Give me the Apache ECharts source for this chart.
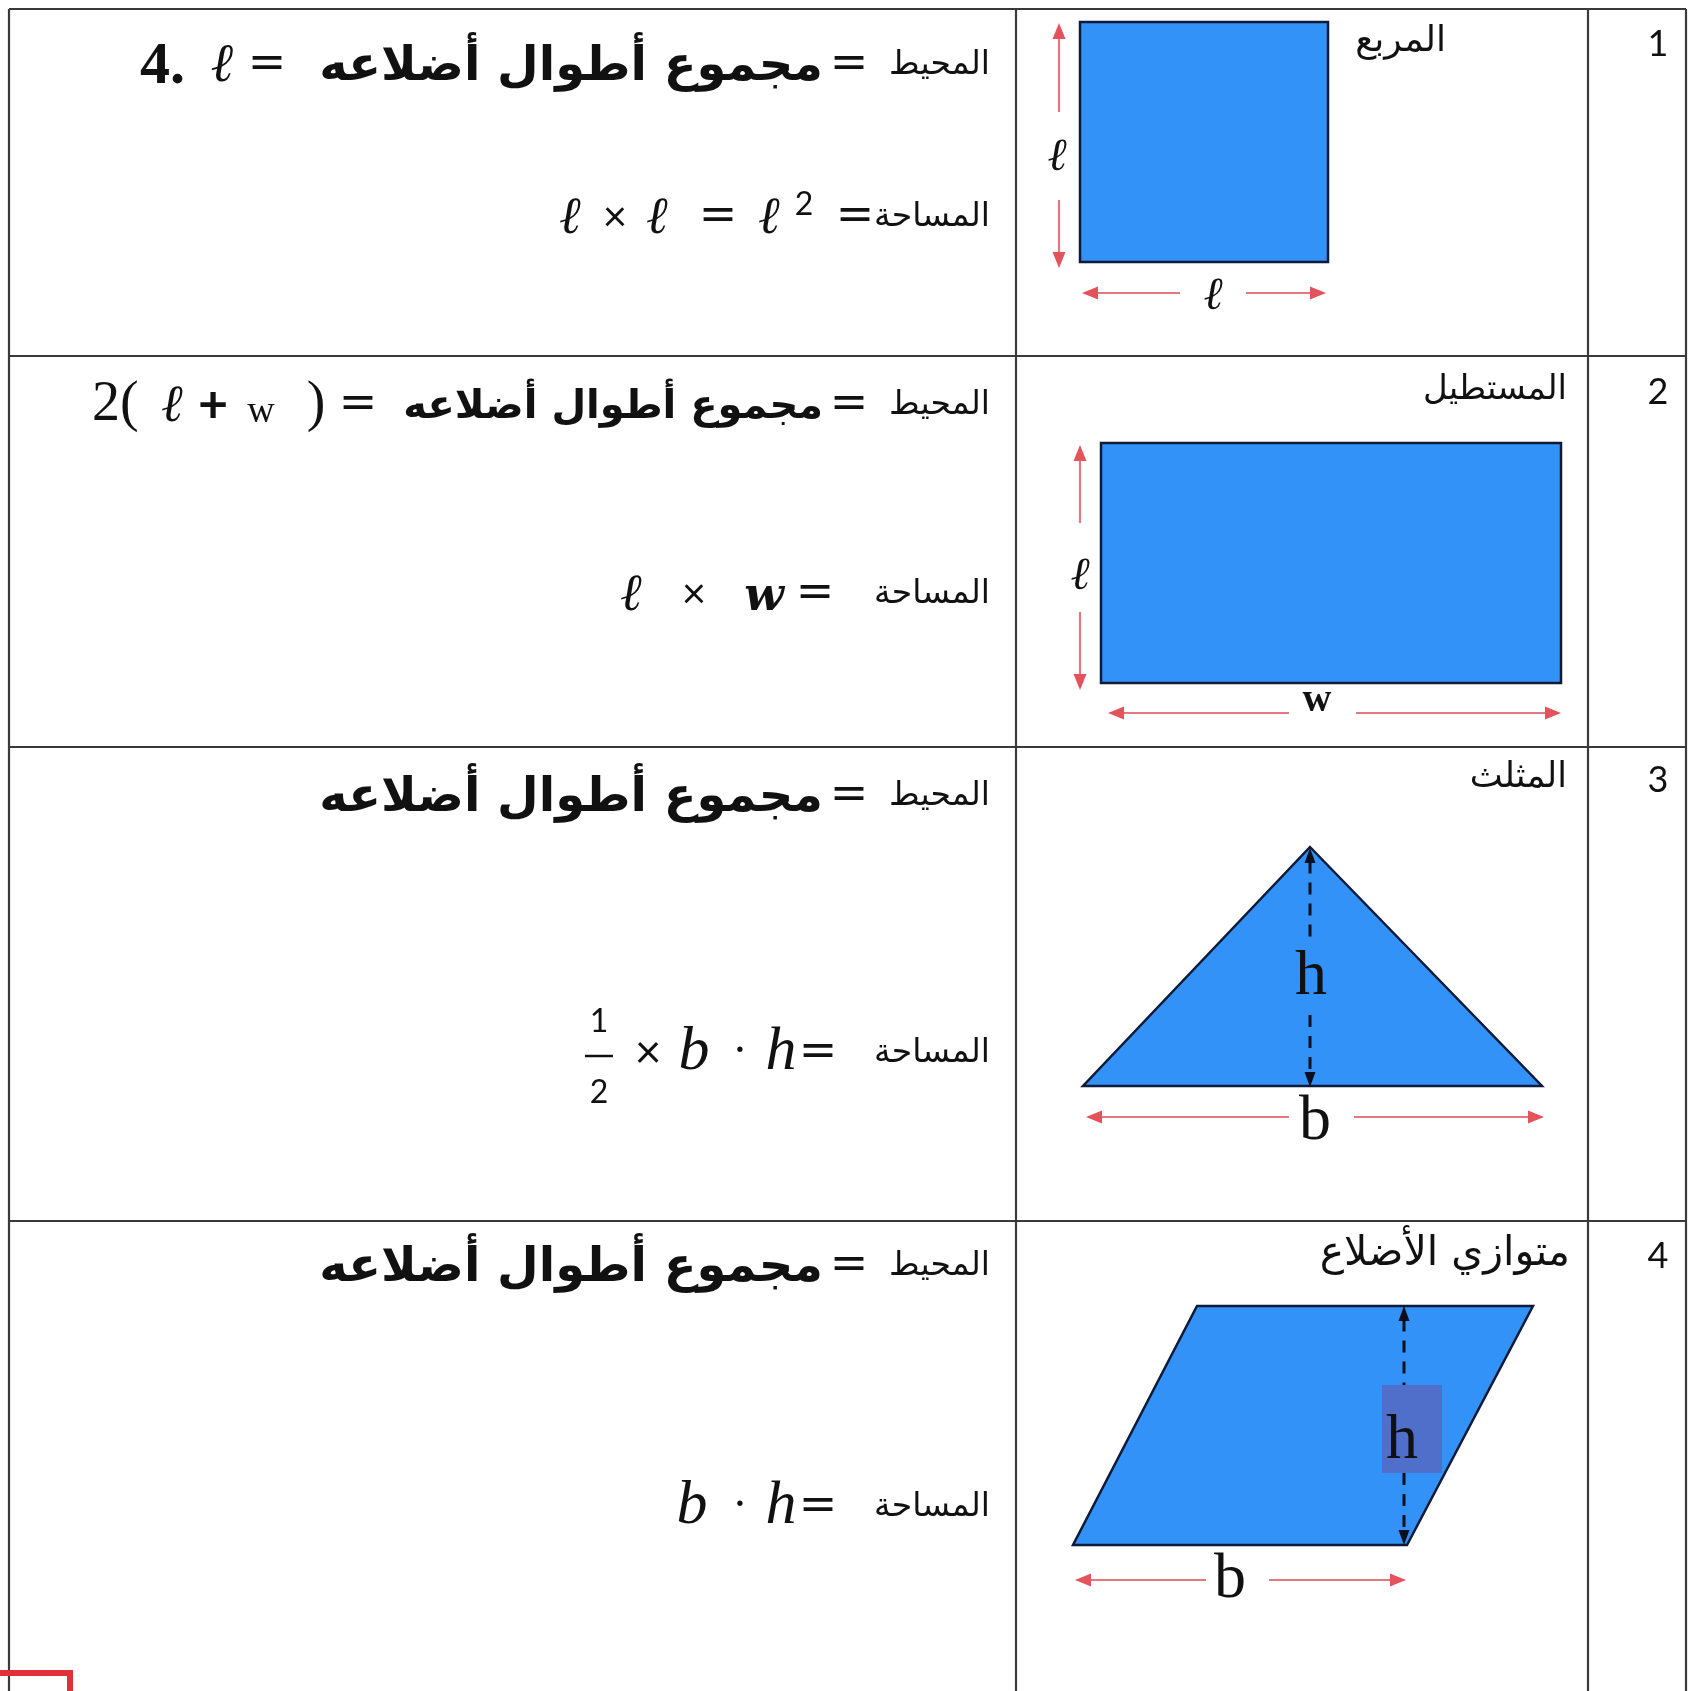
<!DOCTYPE html>
<html><head><meta charset="utf-8">
<script src="https://cdn.jsdelivr.net/npm/echarts@6/dist/echarts.min.js"></script>
<style>html,body{margin:0;padding:0;background:#fff}#c{width:1693px;height:1691px}</style>
</head><body><div id="c"></div>
<script>
// ---------------- data ----------------
const rowNumbers = ['1', '2', '3', '4'];
const shapeNames = ['المربع', 'المستطيل', 'المثلث', 'متوازي الأضلاع'];
const perimeterWord = 'المحيط';
const areaWord = 'المساحة';
const sidesSum = 'مجموع أطوال أضلاعه';
const dimensionLabels = ['ℓ', 'ℓ', 'ℓ', 'w', 'h', 'b', 'h', 'b'];
// table rules (reference pixel units)
const rowLinesY = [9, 356, 747, 1221];
const colLinesX = [9, 1016, 1588, 1686];
// shape vertices
const squareShape = [[1080, 22], [1328, 22], [1328, 262], [1080, 262]];
const rectangleShape = [[1101, 443], [1561, 443], [1561, 683], [1101, 683]];
const triangleShape = [[1310, 847], [1542, 1086], [1083, 1086]];
const parallelogramShape = [[1197, 1306], [1533, 1306], [1407, 1545], [1073, 1545]];
// dimension arrows: [x1, y1, x2, y2, gapFrom, gapTo]
const redArrows = [
  [1059, 23, 1059, 268, 112, 200],
  [1082, 293, 1326, 293, 1180, 1246],
  [1080, 445, 1080, 690, 523, 612],
  [1108, 713, 1561, 713, 1289, 1356],
  [1086, 1117, 1544, 1117, 1289, 1354],
  [1075, 1580, 1406, 1580, 1206, 1269]
];
const heightArrows = [
  [1310, 848, 1310, 1087, 945, 1015],
  [1404, 1306, 1404, 1545, 1385, 1473]
];

// ---------------- layout / styles ----------------
const ARABIC = 'DejaVu Sans';
const SERIF = 'Liberation Serif';
const MATH = 'DejaVu Serif';
const NUM = 'Lato';
const rowTextY = [ // [title/number y, perimeter y, area y]
  [44, 65, 217], [392, 405, 594], [780, 796, 1053], [1256, 1266, 1507]
];
const titleRight = [1446, 1567, 1567, 1570];
const titleSize = [36, 34, 35, 41];
const phraseSize = [48, 40, 48, 48];
const phraseLeftEq = [267, 358, null, null];

const texts = [];
function T(x, y, text, size, family, opt) {
  texts.push(Object.assign({x, y, text, size, family, align: 'center', style: 'normal', weight: 'normal', color: '#111'}, opt || {}));
}
rowNumbers.forEach((n, i) => {
  T(1658, rowTextY[i][0], n, 36, NUM);
  T(titleRight[i], rowTextY[i][0] - 2, shapeNames[i], titleSize[i], ARABIC, {align: 'right'});
  T(990, rowTextY[i][1], perimeterWord, 33, ARABIC, {align: 'right'});
  T(849, rowTextY[i][1], '=', 46, ARABIC);
  T(823, rowTextY[i][1] + 3, sidesSum, phraseSize[i], ARABIC, {align: 'right', weight: 'bold'});
  if (phraseLeftEq[i]) T(phraseLeftEq[i], rowTextY[i][1], '=', 46, ARABIC);
  T(990, rowTextY[i][2], areaWord, 33, ARABIC, {align: 'right'});
});
// row 1 perimeter tail: 4.ℓ
T(140, rowTextY[0][1] + 2, '4.', 60, SERIF, {align: 'left', weight: 'bold'});
T(223, rowTextY[0][1] + 2, 'ℓ', 54, MATH, {style: 'italic', weight: 'bold'});
// row 1 area: ℓ × ℓ = ℓ² =
T(855, rowTextY[0][2], '=', 46, ARABIC);
T(804, rowTextY[0][2] - 12, '2', 32, NUM);
T(770, rowTextY[0][2] + 2, 'ℓ', 52, MATH, {style: 'italic', weight: 'bold'});
T(718, rowTextY[0][2], '=', 46, ARABIC);
T(658, rowTextY[0][2] + 2, 'ℓ', 52, MATH, {style: 'italic', weight: 'bold'});
T(615, rowTextY[0][2], '×', 42, NUM);
T(571, rowTextY[0][2] + 2, 'ℓ', 52, MATH, {style: 'italic', weight: 'bold'});
// row 2 perimeter tail: 2( ℓ + w )
T(316, rowTextY[1][1], ')', 56, SERIF);
T(261, rowTextY[1][1] + 7, 'w', 38, SERIF);
T(213, rowTextY[1][1], '+', 52, NUM, {weight: 'bold'});
T(173, rowTextY[1][1] + 2, 'ℓ', 52, MATH, {style: 'italic', weight: 'bold'});
T(92, rowTextY[1][1], '2(', 56, SERIF, {align: 'left'});
// row 2 area: ℓ × w =
T(815, rowTextY[1][2], '=', 46, ARABIC);
T(764, rowTextY[1][2] + 4, 'w', 46, MATH, {style: 'italic', weight: 'bold'});
T(694, rowTextY[1][2], '×', 42, NUM);
T(632, rowTextY[1][2] + 2, 'ℓ', 52, MATH, {style: 'italic', weight: 'bold'});
// row 3 area: 1/2 × b · h =
T(818, rowTextY[2][2], '=', 46, ARABIC);
T(781, rowTextY[2][2], 'h', 62, SERIF, {style: 'italic'});
T(740, rowTextY[2][2], '·', 46, SERIF);
T(694, rowTextY[2][2], 'b', 62, SERIF, {style: 'italic'});
T(648, rowTextY[2][2], '×', 46, NUM);
T(599, rowTextY[2][2] - 31, '1', 32, NUM);
T(599, rowTextY[2][2] + 40, '2', 32, NUM);
// row 4 area: b · h =
T(818, rowTextY[3][2], '=', 46, ARABIC);
T(781, rowTextY[3][2], 'h', 62, SERIF, {style: 'italic'});
T(740, rowTextY[3][2], '·', 46, SERIF);
T(692, rowTextY[3][2], 'b', 62, SERIF, {style: 'italic'});
// diagram labels
const labelPos = [[1058, 158], [1214, 297], [1081, 577], [1317, 701], [1311, 977], [1315, 1122], [1402, 1441], [1230, 1580]];
dimensionLabels.forEach((t, i) => {
  if (t === 'ℓ') T(labelPos[i][0], labelPos[i][1], t, 46, MATH, {style: 'italic', weight: 'bold'});
  else if (t === 'w') T(labelPos[i][0], labelPos[i][1], t, 40, SERIF, {weight: 'bold'});
  else T(labelPos[i][0], labelPos[i][1], t, 64, SERIF);
});

const shapes = [squareShape, rectangleShape, triangleShape, parallelogramShape];
const BLUE = '#3392f7';
const EDGE = '#0d1a38';
const RED = '#e4525c';
const RED_LINE = '#e07a80';

function head(tip, u, len, wid, color) {
  const bx = tip[0] - u[0] * len, by = tip[1] - u[1] * len;
  const nx = -u[1], ny = u[0];
  return {type: 'polygon', shape: {points: [tip, [bx + nx * wid / 2, by + ny * wid / 2], [bx - nx * wid / 2, by - ny * wid / 2]]}, style: {fill: color}};
}
function arrow(api, a, lineColor, headColor, width, dash, hl, hw) {
  const [x1, y1, x2, y2, g1, g2] = a;
  const vertical = x1 === x2;
  const p1 = api.coord([x1, y1]), p2 = api.coord([x2, y2]);
  const q1 = api.coord(vertical ? [x1, g1] : [g1, y1]);
  const q2 = api.coord(vertical ? [x1, g2] : [g2, y1]);
  const dx = p2[0] - p1[0], dy = p2[1] - p1[1], L = Math.hypot(dx, dy);
  const u = [dx / L, dy / L];
  const s1 = [p1[0] + u[0] * hl * 0.9, p1[1] + u[1] * hl * 0.9];
  const s2 = [p2[0] - u[0] * hl * 0.9, p2[1] - u[1] * hl * 0.9];
  const ls = {stroke: lineColor, lineWidth: width, lineDash: dash || null};
  return [
    {type: 'line', shape: {x1: s1[0], y1: s1[1], x2: q1[0], y2: q1[1]}, style: ls},
    {type: 'line', shape: {x1: q2[0], y1: q2[1], x2: s2[0], y2: s2[1]}, style: ls},
    head(p1, [-u[0], -u[1]], hl, hw, headColor),
    head(p2, u, hl, hw, headColor)
  ];
}

const option = {
  animation: false,
  backgroundColor: '#ffffff',
  grid: {left: 0, right: 0, top: 0, bottom: 0},
  xAxis: {type: 'value', min: 0, max: 1693, show: false},
  yAxis: {type: 'value', min: 0, max: 1691, inverse: true, show: false},
  series: [
    { // table rules
      type: 'custom', clip: false, silent: true,
      data: rowLinesY.map(y => [colLinesX[0], y]).concat(colLinesX.map(x => [x, rowLinesY[0]])),
      renderItem: (params, api) => {
        const i = params.dataIndex;
        let a, b;
        if (i < rowLinesY.length) {
          a = api.coord([colLinesX[0], rowLinesY[i]]); b = api.coord([colLinesX[colLinesX.length - 1], rowLinesY[i]]);
        } else {
          const x = colLinesX[i - rowLinesY.length];
          a = api.coord([x, rowLinesY[0]]); b = api.coord([x, 1691]);
        }
        return {type: 'line', shape: {x1: a[0], y1: a[1], x2: b[0], y2: b[1]}, style: {stroke: '#3a3a3a', lineWidth: 2.2}};
      }
    },
    { // shapes
      type: 'custom', clip: false, silent: true,
      data: shapes.map(s => s[0]),
      renderItem: (params, api) => ({
        type: 'polygon',
        shape: {points: shapes[params.dataIndex].map(p => api.coord(p))},
        style: {fill: BLUE, stroke: EDGE, lineWidth: 2.5}
      })
    },
    { // highlight box behind h in parallelogram
      type: 'custom', clip: false, silent: true,
      data: [[1382, 1385, 1442, 1473]],
      renderItem: (params, api) => {
        const a = api.coord([api.value(0), api.value(1)]), b = api.coord([api.value(2), api.value(3)]);
        return {type: 'rect', shape: {x: a[0], y: a[1], width: b[0] - a[0], height: b[1] - a[1]}, style: {fill: '#4f6fcb'}};
      }
    },
    { // red dimension arrows
      type: 'custom', clip: false, silent: true,
      data: redArrows.map(a => [a[0], a[1]]),
      renderItem: (params, api) => ({type: 'group', children: arrow(api, redArrows[params.dataIndex], RED_LINE, RED, 2.2, null, 16, 13)})
    },
    { // dashed height arrows
      type: 'custom', clip: false, silent: true,
      data: heightArrows.map(a => [a[0], a[1]]),
      renderItem: (params, api) => ({type: 'group', children: arrow(api, heightArrows[params.dataIndex], '#0a0f1e', '#0a0f1e', 3, [12, 9], 15, 11)})
    },
    { // fraction bar
      type: 'custom', clip: false, silent: true,
      data: [[585, 1056, 613]],
      renderItem: (params, api) => {
        const a = api.coord([api.value(0), api.value(1)]), b = api.coord([api.value(2), api.value(1)]);
        return {type: 'line', shape: {x1: a[0], y1: a[1], x2: b[0], y2: b[1]}, style: {stroke: '#111', lineWidth: 2.5}};
      }
    },
    { // texts
      type: 'custom', clip: false, silent: true,
      data: texts.map(t => [t.x, t.y]),
      renderItem: (params, api) => {
        const t = texts[params.dataIndex];
        const p = api.coord([t.x, t.y]);
        return {type: 'text', style: {
          x: p[0], y: p[1], text: t.text, fill: t.color,
          fontSize: t.size, fontFamily: t.family, fontStyle: t.style, fontWeight: t.weight,
          align: t.align, verticalAlign: 'middle'
        }};
      }
    },
    { // red marker at bottom-left corner
      type: 'custom', clip: false, silent: true,
      data: [[-20, 1673, 70, 1710]],
      renderItem: (params, api) => {
        const a = api.coord([api.value(0), api.value(1)]), b = api.coord([api.value(2), api.value(3)]);
        return {type: 'rect', shape: {x: a[0], y: a[1], width: b[0] - a[0], height: b[1] - a[1]}, style: {fill: 'none', stroke: '#e0313a', lineWidth: 6}};
      }
    }
  ]
};
const chart = echarts.init(document.getElementById('c'));
chart.setOption(option);
</script></body></html>
